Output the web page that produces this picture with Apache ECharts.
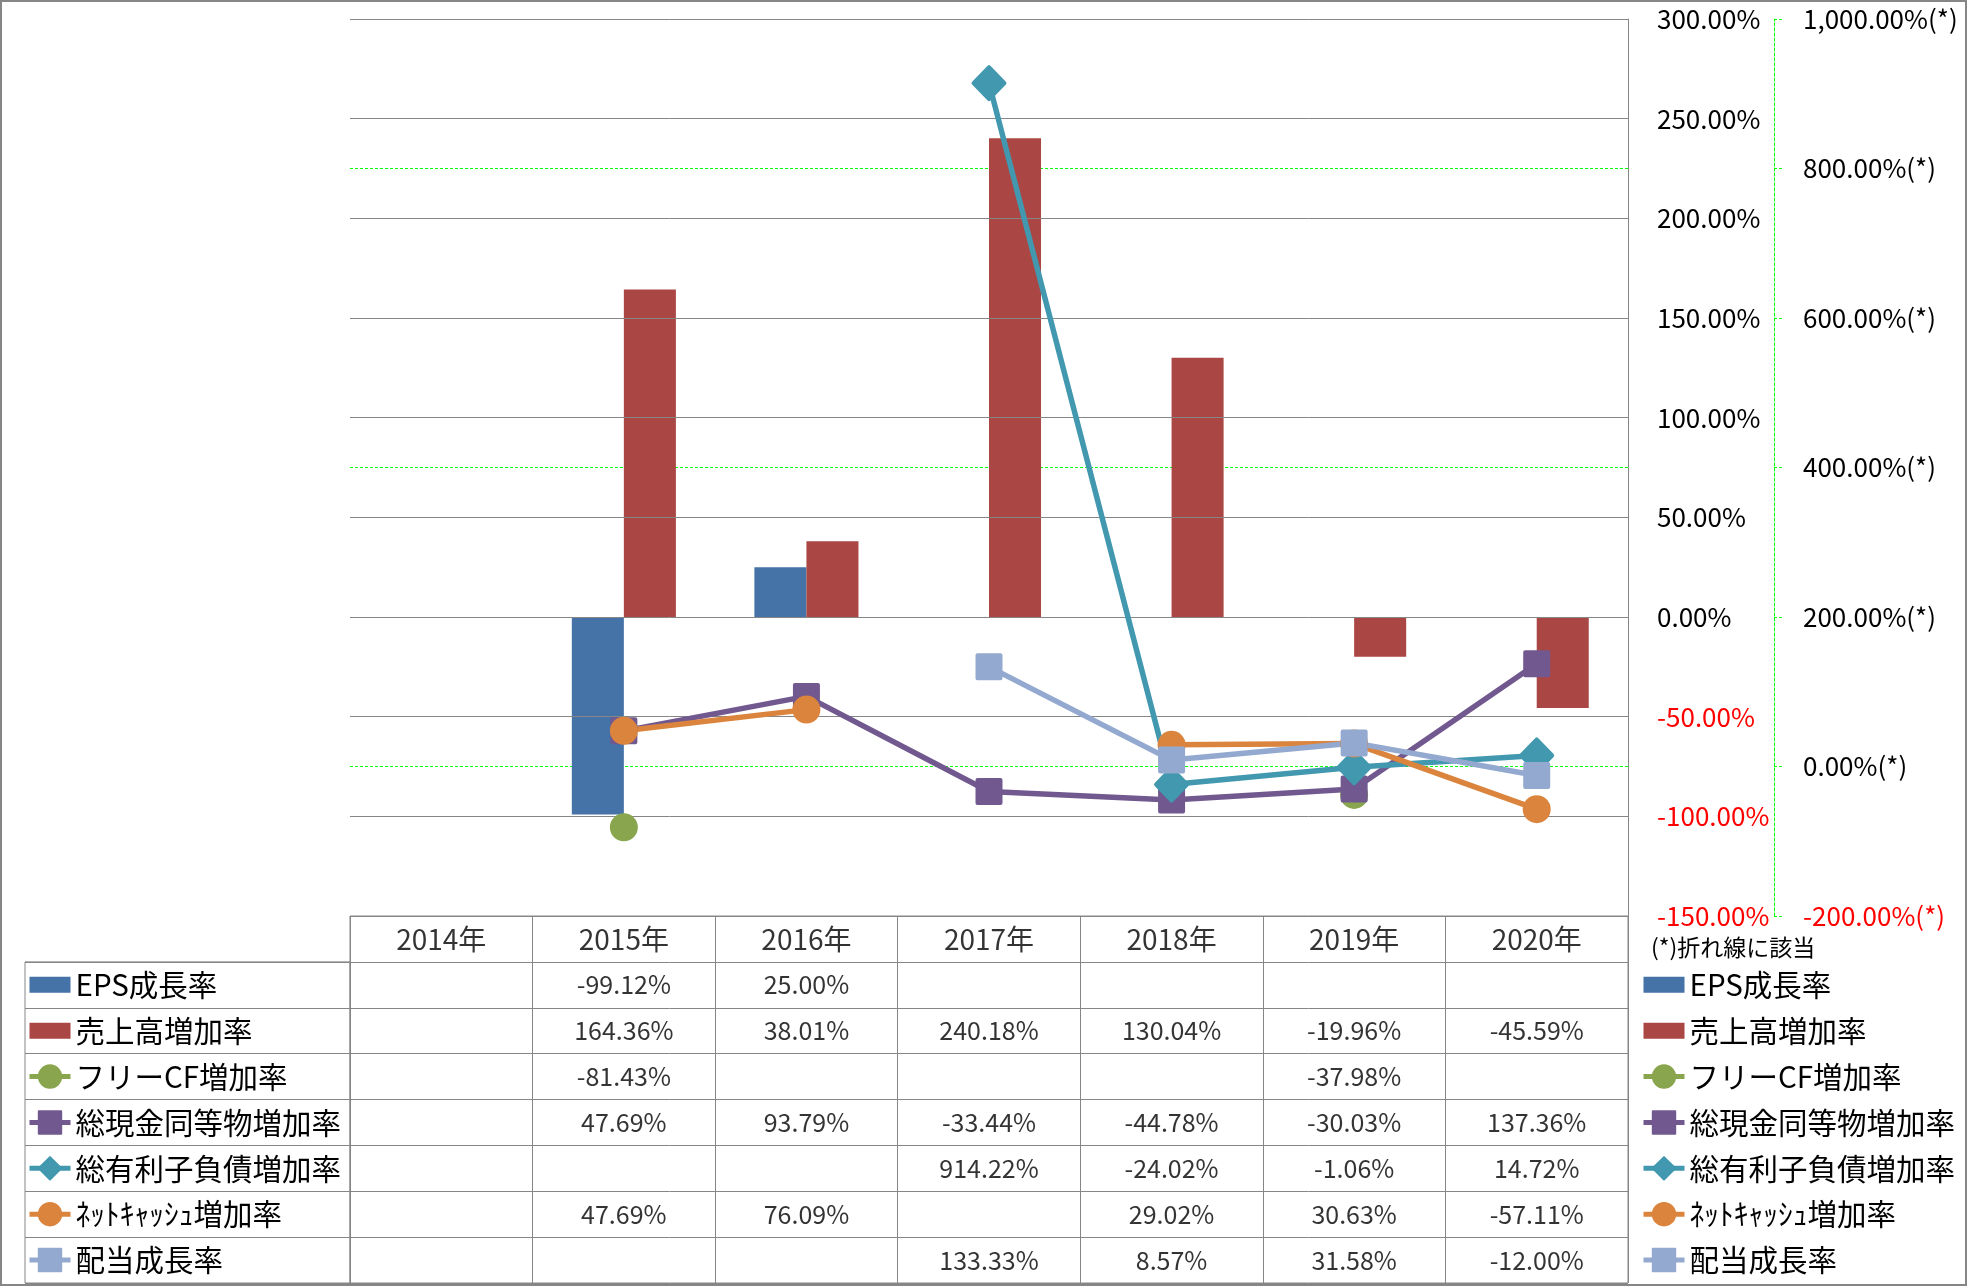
<!DOCTYPE html>
<html><head><meta charset="utf-8">
<script src="https://cdn.jsdelivr.net/npm/echarts@6.0.0/dist/echarts.min.js"></script>
<style>html,body{margin:0;padding:0;background:#fff}#c{width:1967px;height:1286px}</style>
</head><body><div id="c"></div>
<script>
// ---------- data ----------
const years = ['2014年','2015年','2016年','2017年','2018年','2019年','2020年'];
const seriesNames = ['EPS成長率','売上高増加率','フリーCF増加率','総現金同等物増加率','総有利子負債増加率','ﾈｯﾄｷｬｯｼｭ増加率','配当成長率'];
const epsGrowth      = [null, -99.12, 25.00, null, null, null, null];
const salesGrowth    = [null, 164.36, 38.01, 240.18, 130.04, -19.96, -45.59];
const fcfGrowth      = [null, -81.43, null, null, null, -37.98, null];
const cashGrowth     = [null, 47.69, 93.79, -33.44, -44.78, -30.03, 137.36];
const debtGrowth     = [null, null, null, 914.22, -24.02, -1.06, 14.72];
const netCashGrowth  = [null, 47.69, 76.09, null, 29.02, 30.63, -57.11];
const dividendGrowth = [null, null, null, 133.33, 8.57, 31.58, -12.00];
const leftAxisRange  = [-150, 300, 50];
const rightAxisRange = [-200, 1000, 200];
const lineNote = '(*)折れ線に該当';

// ---------- styles ----------
const FONT = '"Noto Sans CJK JP", "Noto Sans", sans-serif';
const colors = ['#4572A7','#AA4643','#89A54E','#71588F','#4198AF','#DB843D','#93A9CF'];
const GREY = '#868686';
const valueRows = [epsGrowth, salesGrowth, fcfGrowth, cashGrowth, debtGrowth, netCashGrowth, dividendGrowth];

function fmt(v){
  return v.toLocaleString('en-US',{minimumFractionDigits:2, maximumFractionDigits:2}) + '%';
}

const PL = 350, PT = 19, PW = 1278, PH = 897;
const TT = 916, ROWH = 45.875;

const chart = echarts.init(document.getElementById('c'), null, {renderer:'canvas'});

const lineDefs = [
  {idx:2, data:fcfGrowth, symbol:'circle', size:24},
  {idx:3, data:cashGrowth, symbol:'rect', size:23},
  {idx:4, data:debtGrowth, symbol:'diamond', size:[31,32]},
  {idx:5, data:netCashGrowth, symbol:'circle', size:24},
  {idx:6, data:dividendGrowth, symbol:'rect', size:23}
];

const barIcon = 'path://M0 0H41V16H0Z';
const legendData = seriesNames.map((n,i)=> i<2 ? {name:n, icon:barIcon}
  : {name:n, lineStyle:{width:5, color:colors[i]}});
function legendAt(left){
  return {
    orient:'vertical', left:left, top: TT + ROWH + (ROWH-32)/2, padding:0,
    itemWidth:41, itemHeight:28, itemGap: ROWH-32,
    textStyle:{fontFamily:FONT, fontSize:29.5, lineHeight:32, color:'#000'},
    data: legendData, selectedMode:false
  };
}

const cellData = [];
valueRows.forEach((row,ri)=>row.forEach((v,xi)=>{ if(v!==null) cellData.push([xi, ri+1]); }));
const headerData = years.map((y,xi)=>[xi,0]);

const option = {
  animation:false,
  backgroundColor:'#fff',
  textStyle:{fontFamily:FONT},
  title:{text:lineNote, left:1651, top:936, padding:0,
    textStyle:{fontFamily:FONT, fontSize:23, fontWeight:'normal', color:'#000'}},
  legend:[legendAt(27), legendAt(1641)],
  grid:[
    {left:PL, top:PT, width:PW, height:PH, outerBoundsMode:'none', containLabel:false},
    {left:PL, top:TT, width:PW, height:ROWH*8, outerBoundsMode:'none', containLabel:false,
      show:true, borderColor:GREY, borderWidth:1, backgroundColor:'transparent'},
    {left:25, top:TT+ROWH, width:PL-25, height:ROWH*7, outerBoundsMode:'none', containLabel:false,
      show:true, borderColor:GREY, borderWidth:1, backgroundColor:'transparent'}
  ],
  xAxis:[
    {type:'category', gridIndex:0, data:years, boundaryGap:true,
      axisLine:{show:false}, axisTick:{show:false}, axisLabel:{show:false}, splitLine:{show:false}},
    {type:'category', gridIndex:1, data:years, boundaryGap:true,
      axisLine:{show:false}, axisTick:{show:false}, axisLabel:{show:false},
      splitLine:{show:true, interval:0, lineStyle:{color:GREY, width:1}}},
    {type:'value', gridIndex:2, show:false, min:0, max:1}
  ],
  yAxis:[
    {type:'value', gridIndex:0, position:'right', z:3,
      min:leftAxisRange[0], max:leftAxisRange[1], interval:leftAxisRange[2],
      axisLine:{show:true, lineStyle:{color:GREY, width:1}},
      axisTick:{show:false},
      axisLabel:{show:true, margin:29, fontFamily:FONT, fontSize:26,
        color:(v)=> Number(v)<0 ? '#FF0000' : '#000',
        formatter:(v)=>fmt(v)},
      splitLine:{show:true, lineStyle:{color:GREY, width:1}}},
    {type:'value', gridIndex:0, position:'right', offset:146, z:1,
      min:rightAxisRange[0], max:rightAxisRange[1], interval:rightAxisRange[2],
      axisLine:{show:true, lineStyle:{color:'#00FF00', width:1, type:[3,2]}},
      axisTick:{show:true, inside:false, length:9, lineStyle:{color:'#00FF00', width:1, type:[3,2]}},
      axisLabel:{show:true, margin:29, fontFamily:FONT, fontSize:26,
        color:(v)=> Number(v)<0 ? '#FF0000' : '#000',
        formatter:(v)=>fmt(v)+'(*)'},
      splitLine:{show:true, lineStyle:{color:'#00FF00', width:1, type:[3,2]}}},
    {type:'category', gridIndex:1, inverse:true, data:['0','1','2','3','4','5','6','7'],
      axisLine:{show:false}, axisTick:{show:false}, axisLabel:{show:false},
      splitLine:{show:true, interval:0, lineStyle:{color:GREY, width:1}}},
    {type:'category', gridIndex:2, inverse:true, data:['1','2','3','4','5','6','7'],
      axisLine:{show:false}, axisTick:{show:false}, axisLabel:{show:false},
      splitLine:{show:true, interval:0, lineStyle:{color:GREY, width:1}}}
  ],
  series:[
    {name:seriesNames[0], type:'bar', xAxisIndex:0, yAxisIndex:0, data:epsGrowth,
      itemStyle:{color:colors[0]}, barGap:'0%', barCategoryGap:'43%', emphasis:{disabled:true}},
    {name:seriesNames[1], type:'bar', xAxisIndex:0, yAxisIndex:0, data:salesGrowth,
      itemStyle:{color:colors[1]}, barGap:'0%', barCategoryGap:'43%', emphasis:{disabled:true}},
    ...lineDefs.map(d=>({
      name:seriesNames[d.idx], type:'line', xAxisIndex:0, yAxisIndex:1, data:d.data,
      symbol:d.symbol, symbolSize:d.size, showSymbol:true, connectNulls:false,
      lineStyle:{color:colors[d.idx], width:5.5},
      itemStyle:{color:colors[d.idx], borderColor:colors[d.idx], borderWidth:4, borderJoin:'round'},
      emphasis:{disabled:true}, z:3
    })),
    {type:'scatter', xAxisIndex:1, yAxisIndex:2, data:headerData, symbolSize:1,
      itemStyle:{color:'rgba(0,0,0,0)'}, silent:true,
      label:{show:true, position:'inside', fontFamily:FONT, fontSize:28, color:'#000',
        formatter:(p)=>years[p.value[0]]}},
    {type:'scatter', xAxisIndex:1, yAxisIndex:2, data:cellData, symbolSize:1,
      itemStyle:{color:'rgba(0,0,0,0)'}, silent:true,
      label:{show:true, position:'inside', fontFamily:FONT, fontSize:25, color:'#000',
        formatter:(p)=>fmt(valueRows[p.value[1]-1][p.value[0]])}}
  ],
  graphic:[{type:'rect', shape:{x:1, y:1, width:1965, height:1284}, silent:true,
    style:{fill:null, stroke:GREY, lineWidth:2}, z:100}]
};
chart.setOption(option);
</script></body></html>
